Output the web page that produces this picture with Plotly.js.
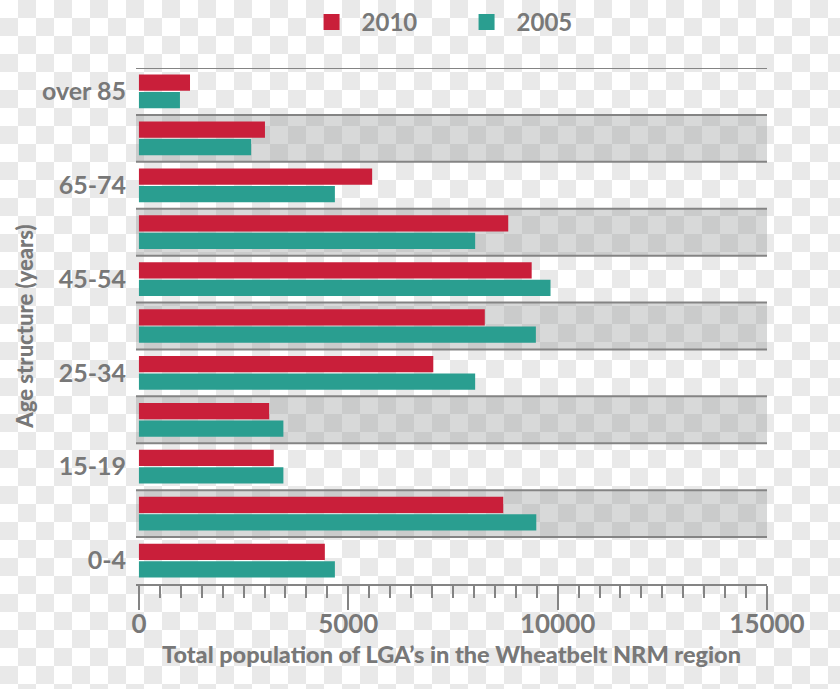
<!DOCTYPE html>
<html>
<head>
<meta charset="utf-8">
<script src="https://cdn.plot.ly/plotly-3.0.1.min.js"></script>
<style>
  html, body { margin: 0; padding: 0; }
  body {
    width: 840px; height: 689px; overflow: hidden;
    background: repeating-conic-gradient(#e9e9e9 0 25%, #ffffff 0 50%) 0 0 / 36px 36px;
  }
  #chart { width: 840px; height: 689px; }
</style>
</head>
<body>
<div id="chart"></div>
<script>
// Age groups, bottom to top
const categories = ["0-4", "5-14", "15-19", "20-24", "25-34", "35-44", "45-54", "55-64", "65-74", "75-84", "over 85"];
// Labels shown on the y axis
const shownLabels = ["0-4", "15-19", "25-34", "45-54", "65-74", "over 85"];
// Total population
const pop2010 = [4440, 8700, 3220, 3110, 7030, 8260, 9380, 8820, 5570, 3010, 1220];
const pop2005 = [4680, 9490, 3450, 3450, 8030, 9480, 9830, 8030, 4680, 2680, 980];
const seriesNames = ["2010", "2005"];
const xTicks = [0, 5000, 10000, 15000];

const red = "#c91f3a";
const teal = "#2a9e90";
const gray = "#787878";
const lineGray = "#848484";
const fontFam = "Lato, 'Open Sans', sans-serif";

const traces = [
  { type: "bar", orientation: "h", name: seriesNames[1], y: categories, x: pop2005,
    marker: { color: teal }, showlegend: false, hoverinfo: "x+name" },
  { type: "bar", orientation: "h", name: seriesNames[0], y: categories, x: pop2010,
    marker: { color: red }, showlegend: false, hoverinfo: "x+name" },
  // legend entries
  { type: "scatter", mode: "markers", name: seriesNames[0], x: [null], y: [null],
    marker: { color: red, symbol: "square", size: 16 }, legendrank: 1 },
  { type: "scatter", mode: "markers", name: seriesNames[1], x: [null], y: [null],
    marker: { color: teal, symbol: "square", size: 16 }, legendrank: 2 }
];

const shapes = [];
categories.forEach((c, i) => {
  if (i % 2 === 1) {
    shapes.push({ type: "rect", layer: "below", xref: "paper", x0: 0, x1: 1, yref: "y",
      y0: i - 0.5, y1: i + 0.5, fillcolor: "rgba(148,149,150,0.36)", line: { width: 0 } });
  }
});
for (let i = 1; i <= categories.length; i++) {
  shapes.push({ type: "line", layer: "above", xref: "paper", x0: 0, x1: 1, yref: "y",
    y0: i - 0.5, y1: i - 0.5, line: { color: lineGray, width: 2 } });
}

const layout = {
  width: 840, height: 689,
  margin: { l: 136, r: 73, t: 68, b: 105 },
  paper_bgcolor: "rgba(0,0,0,0)",
  plot_bgcolor: "rgba(0,0,0,0)",
  font: { family: fontFam, color: gray, size: 22, weight: 700 },
  barmode: "group",
  bargap: 0.255,
  bargroupgap: 0.07,
  showlegend: true,
  legend: {
    orientation: "h", xref: "container", yref: "container",
    x: 0.359, xanchor: "left", y: 1 - 22.5 / 689, yanchor: "middle",
    font: { size: 24, color: gray, family: fontFam, weight: 700 },
    itemwidth: 50, entrywidth: 90, bgcolor: "rgba(0,0,0,0)"
  },
  xaxis: {
    range: [-70, 15000], tickvals: xTicks, ticktext: xTicks.map(String),
    ticks: "outside", ticklen: 24, tickwidth: 2, tickcolor: lineGray,
    ticklabelstandoff: -8,
    minor: { dtick: 500, tick0: 0, ticks: "outside", ticklen: 12, tickwidth: 2, tickcolor: lineGray, showgrid: false },
    showline: true, linecolor: lineGray, linewidth: 2,
    showgrid: false, zeroline: false, fixedrange: true,
    tickfont: { size: 26, color: gray, family: fontFam, weight: 700 },
    title: { text: "Total population of LGA\u2019s in the Wheatbelt NRM region",
      font: { size: 23.5, color: gray, family: fontFam, weight: 900 }, standoff: 8 }
  },
  yaxis: {
    type: "category", categoryorder: "array", categoryarray: categories,
    range: [-0.5, categories.length - 0.5],
    tickvals: shownLabels, ticktext: shownLabels,
    ticks: "outside", ticklen: 4, tickcolor: "rgba(0,0,0,0)",
    showline: false, showgrid: false, zeroline: false, fixedrange: true,
    tickfont: { size: 25, color: gray, family: fontFam, weight: 700 },
    title: { text: "Age structure (years)",
      font: { size: 22, color: gray, family: fontFam, weight: 900 }, standoff: 2 }
  },
  shapes: shapes
};

Plotly.newPlot("chart", traces, layout, { displayModeBar: false, staticPlot: true });
</script>
</body>
</html>
